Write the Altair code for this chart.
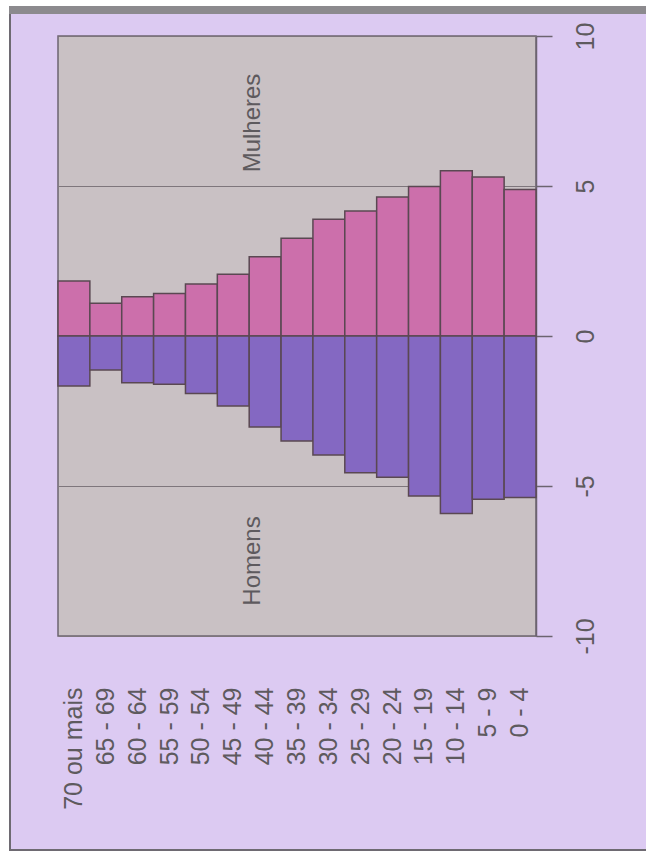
import altair as alt
import pandas as pd

# Faixas etárias, da mais velha para a mais nova
faixas = ["70 ou mais", "65 - 69", "60 - 64", "55 - 59", "50 - 54", "45 - 49",
          "40 - 44", "35 - 39", "30 - 34", "25 - 29", "20 - 24", "15 - 19",
          "10 - 14", "5 - 9", "0 - 4"]
# Percentual da população (mulheres positivo, homens negativo)
mulheres = [1.83, 1.09, 1.31, 1.42, 1.73, 2.06, 2.64, 3.26, 3.89, 4.17,
            4.63, 4.98, 5.51, 5.30, 4.88]
homens = [-1.67, -1.13, -1.56, -1.61, -1.92, -2.33, -3.03, -3.50, -3.97,
          -4.56, -4.71, -5.33, -5.92, -5.44, -5.38]
eixo_valores = [-10, -5, 0, 5, 10]

df = pd.DataFrame({
    "faixa": faixas * 2,
    "sexo": ["Mulheres"] * len(faixas) + ["Homens"] * len(faixas),
    "valor": mulheres + homens,
})

FONT = "Liberation Sans"
TXT = "#5e5a5e"
PINK = "#cc6fab"
PURPLE = "#8468c2"
LAVENDER = "#dccaf2"
PLOT_BG = "#c9c1c4"
EDGE = "#6c6470"

x_enc = alt.X(
    "faixa:N", sort=faixas, title=None,
    scale=alt.Scale(paddingInner=0, paddingOuter=0),
    axis=alt.Axis(labelAngle=270, ticks=False, domain=False, labelPadding=51,
                  labelFontSize=25, labelFont=FONT, labelColor=TXT, grid=False),
)
y_enc = alt.Y(
    "valor:Q", title=None,
    scale=alt.Scale(domain=[-10, 10], nice=False),
    axis=alt.Axis(orient="right", values=eixo_valores, tickSize=16,
                  tickColor=EDGE, tickWidth=1.5, domainColor=EDGE,
                  domainWidth=1.5, labelAngle=270, labelAlign="center",
                  labelBaseline="top", labelPadding=21, labelFontSize=25,
                  labelFont=FONT, labelColor=TXT, grid=True,
                  gridColor="#7e767c", gridWidth=1,
                  labelExpr="datum.value < 0 ? '-' + abs(datum.value) : '' + datum.value"),
)

bars = alt.Chart(df).mark_bar(stroke="#5a4852", strokeWidth=1.5).encode(
    x=x_enc,
    y=y_enc,
    color=alt.Color("sexo:N", legend=None,
                    scale=alt.Scale(domain=["Mulheres", "Homens"],
                                    range=[PINK, PURPLE])),
)

one = pd.DataFrame({"k": [0]})


def rotulo(texto, valor):
    return alt.Chart(one).mark_text(
        angle=270, fontSize=24, font=FONT, color=TXT, align="center",
        baseline="middle", dy=-12,
    ).encode(x=alt.datum("40 - 44"), y=alt.datum(valor), text=alt.value(texto))


def faixa_moldura(x, x2, y, y2, cor):
    return alt.Chart(one).mark_rect(color=cor).encode(
        x=alt.value(x), x2=alt.value(x2), y=alt.value(y), y2=alt.value(y2))


moldura = [
    faixa_moldura(-58, 588, -36, -30, "#ffffff"),
    faixa_moldura(-58, 588, -30, -22, "#8c8a8e"),
    faixa_moldura(-58, -49, -36, 818, "#ffffff"),
    faixa_moldura(-49, -47, -22, 815, "#6e6a72"),
    faixa_moldura(-49, 588, 813, 815, "#6e6a72"),
    faixa_moldura(-58, 588, 815, 818, "#ffffff"),
]

chart = alt.layer(
    bars, rotulo("Mulheres", 7.1), rotulo("Homens", -7.5), *moldura
).properties(
    width=478, height=600, padding=0, background=LAVENDER,
).configure_view(
    fill=PLOT_BG, stroke=EDGE, strokeWidth=1.5,
)

chart.save("out.html", embed_options={"renderer": "svg", "actions": False})
